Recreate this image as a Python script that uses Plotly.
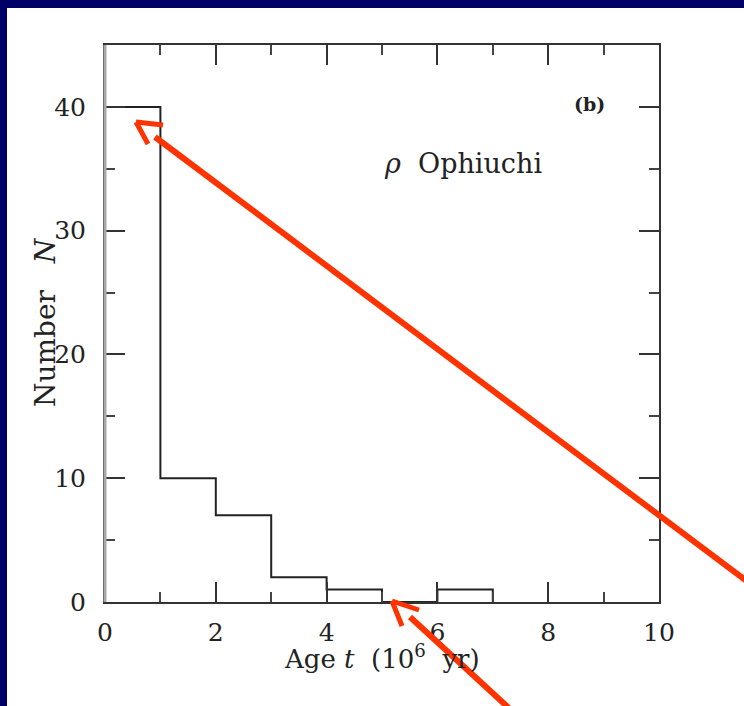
import plotly.graph_objects as go

# Age histogram for rho Ophiuchi (bins of 1 Myr)
bin_edges = [0, 1, 2, 3, 4, 5, 6, 7]
counts = [40, 10, 7, 2, 1, 0, 1]
x_ticks = [0, 2, 4, 6, 8, 10]
y_ticks = [0, 10, 20, 30, 40]

W, H = 744, 706
L, R, T, B = 105, 659, 45, 602  # plot-area pixel box

def px(p):
    return (p - L) / (R - L)

def py(p):
    return (B - p) / (B - T)

FONT = "DejaVu Serif"
INK = "#222222"
RED = "#ff3300"
NAVY = "#010066"

fig = go.Figure()
fig.add_trace(go.Scatter(
    x=bin_edges,
    y=counts + [0],
    mode="lines",
    line=dict(shape="hv", color=INK, width=2),
    hoverinfo="skip",
    showlegend=False,
))

axis_common = dict(
    showgrid=False,
    zeroline=False,
    showline=True,
    mirror="ticks",
    linecolor="#333333",
    linewidth=2,
    ticks="inside",
    ticklen=20,
    tickwidth=2,
    tickcolor="#333333",
    tickfont=dict(family=FONT, size=25, color="#222222"),
)

fig.update_xaxes(
    range=[0, 10],
    tickvals=x_ticks,
    ticklabelstandoff=7,
    minor=dict(dtick=1, ticks="inside", ticklen=10, tickwidth=2, tickcolor="#444444"),
    **axis_common,
)
fig.update_yaxes(
    range=[0, 45],
    tickvals=y_ticks,
    ticklabelstandoff=12,
    minor=dict(dtick=5, ticks="inside", ticklen=10, tickwidth=2, tickcolor="#444444"),
    **axis_common,
)

shapes = []
# slide frame
shapes.append(dict(type="rect", xref="paper", yref="paper", layer="above",
                   x0=px(0), x1=px(W), y0=py(0), y1=py(8),
                   fillcolor=NAVY, line=dict(width=0)))
shapes.append(dict(type="rect", xref="paper", yref="paper", layer="above",
                   x0=px(0), x1=px(7), y0=py(0), y1=py(H),
                   fillcolor=NAVY, line=dict(width=0)))
# softer left spine
shapes.append(dict(type="line", xref="paper", yref="paper", layer="above",
                   x0=px(L), x1=px(L), y0=py(T), y1=py(B),
                   line=dict(color="#a8a8a8", width=3)))

# red pointer arrows (shaft + open head)
def arrow(tip, wing_a, wing_b, tail0, tail1):
    out = []
    for (a, b, w) in [(tip, wing_a, 5), (tip, wing_b, 5), (tail0, tail1, 6)]:
        out.append(dict(type="line", xref="paper", yref="paper", layer="above",
                        x0=px(a[0]), y0=py(a[1]), x1=px(b[0]), y1=py(b[1]),
                        line=dict(color=RED, width=w)))
    return out

shapes += arrow((136, 122), (163, 125), (148, 144), (155, 137), (748, 582))
shapes += arrow((392, 601), (419, 610), (402, 626), (410, 617), (512, 711))

def label(text, x, y, size, angle=0):
    return dict(text=text, x=px(x), y=py(y), xref="paper", yref="paper",
                xanchor="center", yanchor="middle", textangle=angle,
                showarrow=False, font=dict(family=FONT, size=size, color="#222222"))

annotations = [
    label("Age <i>t</i>  (10<sup>6</sup>  yr)", 382, 657, 26),
    label("Number   <i>N</i>", 45, 322, 28, angle=-90),
    label("<i>ρ</i>  Ophiuchi", 463, 163, 27),
    label("<b>(b)</b>", 589, 104, 19),
]

fig.update_layout(
    width=W, height=H,
    margin=dict(l=L, r=W - R, t=T, b=H - B, pad=0),
    paper_bgcolor="white",
    plot_bgcolor="white",
    shapes=shapes,
    annotations=annotations,
    showlegend=False,
)

fig.write_html("out.html")
